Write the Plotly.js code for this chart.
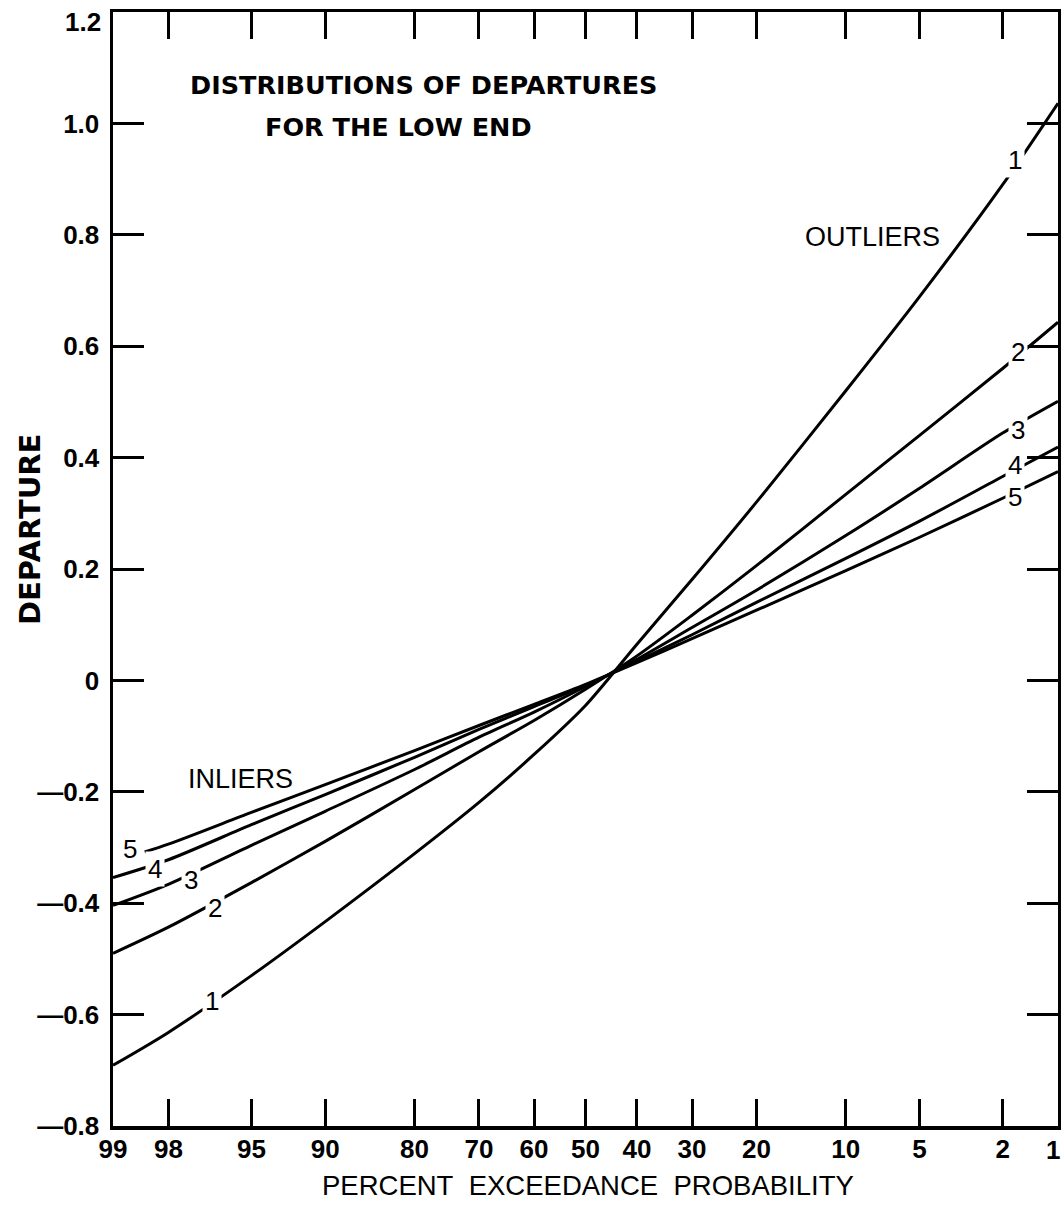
<!DOCTYPE html>
<html>
<head>
<meta charset="utf-8">
<script src="https://cdn.plot.ly/plotly-3.0.1.min.js"></script>
<style>
  html, body { margin: 0; padding: 0; background: #fff; }
  #chart { width: 1061px; height: 1210px; }
</style>
</head>
<body>
<div id="chart"></div>
<script>
// Percent exceedance probabilities at which each curve is read
const probs = [99, 98, 95, 90, 80, 70, 60, 50, 40, 30, 20, 10, 5, 2, 1];
// Curve 5 begins just inside the 99 percent line
const probs5 = [98.5, 98, 95, 90, 80, 70, 60, 50, 40, 30, 20, 10, 5, 2, 1];

// Departures for curves 1 to 5
const curve1 = [-0.691, -0.632, -0.530, -0.433, -0.311, -0.219, -0.133, -0.045, 0.065, 0.181, 0.320, 0.520, 0.689, 0.890, 1.036];
const curve2 = [-0.490, -0.443, -0.363, -0.289, -0.196, -0.128, -0.072, -0.016, 0.044, 0.117, 0.206, 0.334, 0.440, 0.560, 0.643];
const curve3 = [-0.404, -0.366, -0.296, -0.235, -0.160, -0.102, -0.057, -0.011, 0.038, 0.095, 0.162, 0.260, 0.345, 0.444, 0.501];
const curve4 = [-0.354, -0.322, -0.259, -0.205, -0.138, -0.088, -0.047, -0.009, 0.034, 0.082, 0.140, 0.219, 0.286, 0.366, 0.419];
const curve5 = [-0.308, -0.294, -0.237, -0.187, -0.126, -0.081, -0.043, -0.007, 0.032, 0.075, 0.126, 0.197, 0.257, 0.327, 0.375];

// Axis tick labels
const xTickProbs = [99, 98, 95, 90, 80, 70, 60, 50, 40, 30, 20, 10, 5, 2, 1];
const yTickVals = [-0.8, -0.6, -0.4, -0.2, 0, 0.2, 0.4, 0.6, 0.8, 1.0, 1.2];
const yTickText = ["\u20140.8", "\u20140.6", "\u20140.4", "\u20140.2", "0", "0.2", "0.4", "0.6", "0.8", "1.0", "1.2"];

// Inverse standard normal CDF (Acklam) — gives the normal-probability scale
function probit(p) {
  const a = [-3.969683028665376e+01, 2.209460984245205e+02, -2.759285104469687e+02,
             1.383577518672690e+02, -3.066479806614716e+01, 2.506628277459239e+00];
  const b = [-5.447609879822406e+01, 1.615858368580409e+02, -1.556989798598866e+02,
             6.680131188771972e+01, -1.328068155288572e+01];
  const c = [-7.784894002430293e-03, -3.223964580411365e-01, -2.400758277161838e+00,
             -2.549732539343734e+00, 4.374664141464968e+00, 2.938163982698783e+00];
  const d = [7.784695709041462e-03, 3.224671290700398e-01, 2.445134137142996e+00,
             3.754408661907416e+00];
  const pl = 0.02425, ph = 1 - pl;
  let q, r;
  if (p < pl) {
    q = Math.sqrt(-2 * Math.log(p));
    return (((((c[0]*q + c[1])*q + c[2])*q + c[3])*q + c[4])*q + c[5]) /
           ((((d[0]*q + d[1])*q + d[2])*q + d[3])*q + 1);
  }
  if (p <= ph) {
    q = p - 0.5; r = q * q;
    return (((((a[0]*r + a[1])*r + a[2])*r + a[3])*r + a[4])*r + a[5]) * q /
           (((((b[0]*r + b[1])*r + b[2])*r + b[3])*r + b[4])*r + 1);
  }
  q = Math.sqrt(-2 * Math.log(1 - p));
  return -(((((c[0]*q + c[1])*q + c[2])*q + c[3])*q + c[4])*q + c[5]) /
          ((((d[0]*q + d[1])*q + d[2])*q + d[3])*q + 1);
}
// exceedance percent -> position on the probability axis
const pos = p => probit(1 - p / 100);

const lineStyle = { color: '#000', width: 3, shape: 'spline', smoothing: 0.8 };
function curve(pr, vals) {
  return { x: pr.map(pos), y: vals, mode: 'lines', line: lineStyle, hoverinfo: 'skip' };
}

const traces = [
  curve(probs, curve1),
  curve(probs, curve2),
  curve(probs, curve3),
  curve(probs, curve4),
  curve(probs5, curve5)
];

const labelFont = { family: 'Liberation Sans, Arial, sans-serif', size: 26, color: '#000' };
function curveLabel(text, p, y) {
  return { x: pos(p), y: y, xref: 'x', yref: 'y', text: text, showarrow: false,
           font: labelFont, bgcolor: '#fff', borderpad: 2, xanchor: 'center', yanchor: 'middle' };
}

const titleFont = { family: 'DejaVu Sans, sans-serif', size: 25.5, weight: 'bold', color: '#000' };
const plainFont = { family: 'Liberation Sans, Arial, sans-serif', size: 27, color: '#000' };
const tickFont = { family: 'Liberation Sans, Arial, sans-serif', size: 26, weight: 'bold', color: '#000' };

// The two corner tick labels sit just inside the frame corners
const lastX = xTickProbs.length - 1;
const lastY = yTickVals.length - 1;

const annotations = [
  { xref: 'paper', yref: 'paper', x: 0.0794, y: 0.9349, xanchor: 'left', yanchor: 'middle',
    text: 'DISTRIBUTIONS OF DEPARTURES', showarrow: false, font: titleFont },
  { xref: 'paper', yref: 'paper', x: 0.1587, y: 0.8968, xanchor: 'left', yanchor: 'middle',
    text: 'FOR THE LOW END', showarrow: false, font: titleFont },
  { xref: 'paper', yref: 'paper', x: 0.8032, y: 0.798, xanchor: 'center', yanchor: 'middle',
    text: 'OUTLIERS', showarrow: false, font: plainFont },
  { xref: 'paper', yref: 'paper', x: 0.1344, y: 0.3115, xanchor: 'center', yanchor: 'middle',
    text: 'INLIERS', showarrow: false, font: plainFont },
  { xref: 'paper', yref: 'paper', x: -0.0878, y: 0.535, xanchor: 'center', yanchor: 'middle',
    text: 'DEPARTURE', textangle: -90, showarrow: false,
    font: { family: 'DejaVu Sans, sans-serif', size: 29, weight: 'bold', color: '#000' } },
  { xref: 'paper', yref: 'paper', x: 0.5026, y: -0.053, xanchor: 'center', yanchor: 'middle',
    text: 'PERCENT\u00a0 EXCEEDANCE\u00a0 PROBABILITY', showarrow: false,
    font: { family: 'Liberation Sans, Arial, sans-serif', size: 27.5, color: '#000' } },
  // corner tick labels
  { xref: 'x', yref: 'paper', x: pos(xTickProbs[lastX]), y: 0, xanchor: 'center', yanchor: 'middle',
    xshift: -5, yshift: -24, text: String(xTickProbs[lastX]), showarrow: false, font: tickFont },
  { xref: 'paper', yref: 'y', x: 0, y: yTickVals[lastY], xanchor: 'right', yanchor: 'middle',
    xshift: -10, yshift: -10, text: yTickText[lastY], showarrow: false, font: tickFont },
  // curve numbers, low end
  curveLabel('5', 98.75, -0.302),
  curveLabel('4', 98.3, -0.338),
  curveLabel('3', 97.4, -0.359),
  curveLabel('2', 96.6, -0.409),
  curveLabel('1', 96.7, -0.575),
  // curve numbers, high end
  curveLabel('1', 1.73, 0.934),
  curveLabel('2', 1.67, 0.589),
  curveLabel('3', 1.67, 0.449),
  curveLabel('4', 1.73, 0.386),
  curveLabel('5', 1.73, 0.329)
];

const layout = {
  width: 1061, height: 1210,
  margin: { l: 113, r: 3, t: 12, b: 84, pad: 0 },
  paper_bgcolor: '#fff', plot_bgcolor: '#fff',
  showlegend: false,
  xaxis: {
    range: [pos(99), pos(1)],
    tickmode: 'array',
    tickvals: xTickProbs.map(pos),
    ticktext: xTickProbs.map((p, i) => (i === lastX ? '' : String(p))),
    ticks: 'inside', ticklen: 27, tickwidth: 3, tickcolor: '#000',
    showline: true, linewidth: 3.5, linecolor: '#000', mirror: 'ticks',
    showgrid: false, zeroline: false,
    tickfont: tickFont, ticklabelstandoff: -3
  },
  yaxis: {
    range: [-0.8, 1.2],
    tickmode: 'array',
    tickvals: yTickVals,
    ticktext: yTickText.map((t, i) => (i === lastY ? '' : t)),
    ticks: 'inside', ticklen: 31, tickwidth: 3, tickcolor: '#000',
    showline: true, linewidth: 3.5, linecolor: '#000', mirror: 'ticks',
    showgrid: false, zeroline: false,
    tickfont: tickFont, ticklabelstandoff: 5
  },
  annotations: annotations
};

Plotly.newPlot('chart', traces, layout, { staticPlot: true, displayModeBar: false });
</script>
</body>
</html>
